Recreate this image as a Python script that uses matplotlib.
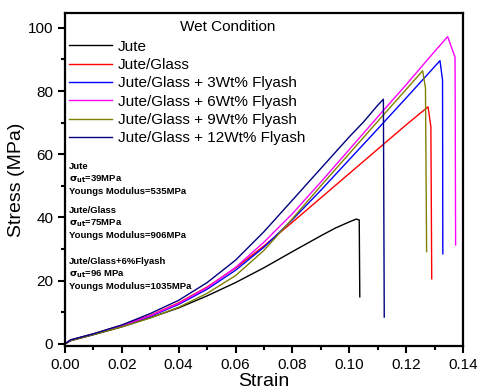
import matplotlib
matplotlib.use("Agg")
import matplotlib.pyplot as plt
from matplotlib.ticker import MultipleLocator

plt.rcParams["font.family"] = ["Liberation Sans", "DejaVu Sans"]

# ─── data (strain, stress MPa) ───────────────────────────
jute_x = [0, 0.002, 0.01, 0.02, 0.03, 0.04, 0.05, 0.06, 0.07, 0.08, 0.09, 0.095, 0.1, 0.1025, 0.1035, 0.1037]
jute_y = [0, 1.0, 2.9, 5.4, 8.3, 11.4, 15.2, 19.4, 24.1, 29.2, 34.2, 36.6, 38.6, 39.5, 39.2, 14.9]

glass_x = [0, 0.002, 0.01, 0.02, 0.03, 0.04, 0.05, 0.06, 0.07, 0.08, 0.09, 0.1, 0.11, 0.12, 0.1277, 0.1287, 0.129]
glass_y = [0, 1.2, 3.2, 5.9, 9.0, 13.0, 18.0, 24.0, 31.0, 38.5, 46.2, 53.9, 61.6, 69.3, 75.0, 68.7, 20.6]

fa3_x = [0, 0.002, 0.01, 0.02, 0.03, 0.04, 0.05, 0.06, 0.07, 0.08, 0.09, 0.1, 0.11, 0.12, 0.13, 0.1319, 0.1328, 0.1329]
fa3_y = [0, 1.2, 3.1, 5.7, 8.7, 12.5, 17.3, 23.3, 30.6, 39.3, 48.6, 58.3, 68.0, 77.8, 87.7, 89.6, 83.5, 28.5]

fa6_x = [0, 0.002, 0.01, 0.02, 0.03, 0.04, 0.05, 0.06, 0.07, 0.08, 0.09, 0.1, 0.11, 0.12, 0.13, 0.1346, 0.1372, 0.1374]
fa6_y = [0, 1.2, 3.1, 5.8, 8.9, 12.8, 17.8, 24.2, 32.2, 41.2, 51.2, 61.5, 71.8, 82.0, 92.5, 97.2, 90.7, 31.3]

fa9_x = [0, 0.002, 0.01, 0.02, 0.03, 0.04, 0.05, 0.06, 0.07, 0.08, 0.09, 0.1, 0.11, 0.12, 0.1258, 0.1268, 0.1272]
fa9_y = [0, 1.1, 3.0, 5.4, 8.2, 11.6, 16.0, 21.6, 29.6, 39.6, 50.0, 60.2, 70.4, 80.5, 86.4, 80.9, 29.2]

fa12_x = [0, 0.002, 0.01, 0.02, 0.03, 0.04, 0.05, 0.06, 0.07, 0.08, 0.09, 0.1, 0.105, 0.11, 0.112, 0.1123]
fa12_y = [0, 1.3, 3.2, 6.0, 9.6, 13.8, 19.4, 26.5, 35.5, 45.5, 55.5, 65.5, 70.2, 75.5, 77.4, 8.5]

labels = ["Jute", "Jute/Glass", "Jute/Glass + 3Wt% Flyash", "Jute/Glass + 6Wt% Flyash",
          "Jute/Glass + 9Wt% Flyash", "Jute/Glass + 12Wt% Flyash"]
colors = ["#000000", "#ff0000", "#0000ff", "#ff00ff", "#808000", "#000080"]
series = [(jute_x, jute_y), (glass_x, glass_y), (fa3_x, fa3_y),
          (fa6_x, fa6_y), (fa9_x, fa9_y), (fa12_x, fa12_y)]

notes = [
    ["Jute", r"$\mathbf{\sigma_{ut}}$=39MPa", "Youngs Modulus=535MPa"],
    ["Jute/Glass", r"$\mathbf{\sigma_{ut}}$=75MPa", "Youngs Modulus=906MPa"],
    ["Jute/Glass+6%Flyash", r"$\mathbf{\sigma_{ut}}$=96 MPa", "Youngs Modulus=1035MPa"],
]
# ─────────────────────────────────────────────────────────

fig = plt.figure(figsize=(4.81, 3.92), dpi=100)
ax = fig.add_axes([0.135, 0.117, 0.8276, 0.85])

for (x, y), c, lab in zip(series, colors, labels):
    ax.plot(x, y, color=c, linewidth=1.0, label=lab)

ax.set_xlim(0, 0.14)
ax.set_ylim(-0.7, 104.7)
ax.xaxis.set_major_locator(MultipleLocator(0.02))
ax.xaxis.set_minor_locator(MultipleLocator(0.01))
ax.yaxis.set_major_locator(MultipleLocator(20))
ax.yaxis.set_minor_locator(MultipleLocator(10))
ax.xaxis.set_major_formatter(matplotlib.ticker.FormatStrFormatter("%.2f"))
ax.tick_params(which="major", direction="out", length=5, width=1.5, labelsize=11)
ax.tick_params(which="minor", direction="out", length=3, width=1.5)
for s in ax.spines.values():
    s.set_linewidth(1.6)

ax.set_xlabel("Strain", fontsize=14, labelpad=1)
ax.set_ylabel("Stress (MPa)", fontsize=14, labelpad=2)

leg = ax.legend(loc="upper left", bbox_to_anchor=(-0.012, 0.947), frameon=False,
                fontsize=11, handlelength=2.8, handletextpad=0.4,
                labelspacing=0.28, borderaxespad=0.2)
ax.text(0.289, 0.958, "Wet Condition", transform=ax.transAxes,
        fontsize=11, va="center", ha="left")

# baselines of the first line of each note block
tops = [0.531, 0.399, 0.246]
for block, yt in zip(notes, tops):
    for k, line in enumerate(block):
        ax.text(0.01, yt - k * 0.037, line, transform=ax.transAxes,
                fontsize=6.8, fontweight="bold", va="baseline", ha="left")

fig.savefig("out.png", dpi=100)
